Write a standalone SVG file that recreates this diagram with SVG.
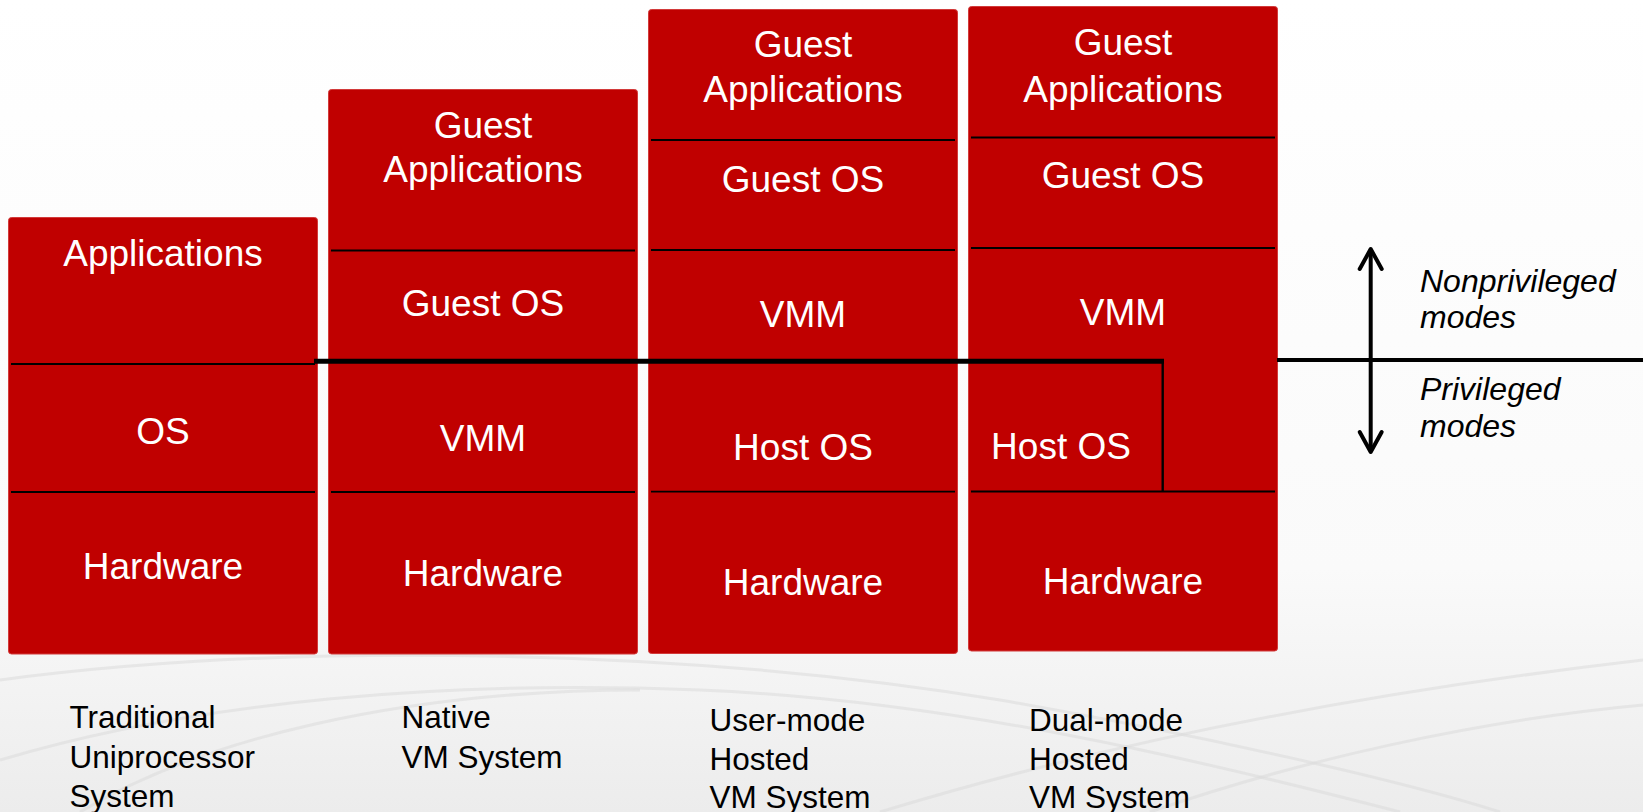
<svg xmlns="http://www.w3.org/2000/svg" width="1643" height="812" viewBox="0 0 1643 812">
<style>
.blk{fill:#C00000;stroke:#D23A3A;stroke-width:1}
.div{stroke:#000;stroke-width:1.8;fill:none}
.lbl{font-family:"Liberation Sans",Arial,sans-serif;font-size:37px;fill:#fff;text-anchor:middle}
.cap{font-family:"Liberation Sans",Arial,sans-serif;font-size:31.5px;fill:#000}
.mode{font-family:"Liberation Sans",Arial,sans-serif;font-size:32px;font-style:italic;fill:#000}
.swoosh{fill:none;stroke:#dadada;stroke-width:3;opacity:0.55}
</style>
<defs>
<linearGradient id="bg" x1="0" y1="0" x2="0" y2="1">
<stop offset="0" stop-color="#ffffff"/>
<stop offset="0.7" stop-color="#fafafa"/>
<stop offset="1" stop-color="#ececec"/>
</linearGradient>
</defs>
<rect x="0" y="0" width="1643" height="812" fill="url(#bg)"/>
<g id="background-swooshes">
<path class="swoosh" d="M0,760 C200,700 450,680 700,690 C950,700 1200,760 1400,812"/>
<path class="swoosh" d="M0,680 C300,640 700,650 1000,700 C1200,735 1400,780 1500,812"/>
<path class="swoosh" d="M880,812 C1050,760 1300,700 1643,660"/>
<path class="swoosh" d="M1150,812 C1300,760 1480,720 1643,705"/>
<path class="swoosh" d="M80,812 C200,740 400,690 640,690"/>
</g>

<g id="col1">
<rect class="blk" x="8.5" y="217.5" width="309" height="436.5" rx="3"/>
<line class="div" x1="11" y1="364" x2="315" y2="364"/>
<line class="div" x1="11" y1="492" x2="315" y2="492"/>
<text class="lbl" x="163" y="266">Applications</text>
<text class="lbl" x="163" y="444">OS</text>
<text class="lbl" x="163" y="579">Hardware</text>
</g>

<g id="col2">
<rect class="blk" x="328.5" y="89.5" width="309" height="564.5" rx="3"/>
<line class="div" x1="331" y1="250.5" x2="635" y2="250.5"/>
<line class="div" x1="331" y1="492" x2="635" y2="492"/>
<text class="lbl" x="483" y="137.5">Guest</text>
<text class="lbl" x="483" y="182">Applications</text>
<text class="lbl" x="483" y="316">Guest OS</text>
<text class="lbl" x="483" y="451">VMM</text>
<text class="lbl" x="483" y="586">Hardware</text>
</g>

<g id="col3">
<rect class="blk" x="648.5" y="9.5" width="309" height="644" rx="3"/>
<line class="div" x1="651" y1="140" x2="955" y2="140"/>
<line class="div" x1="651" y1="250" x2="955" y2="250"/>
<line class="div" x1="651" y1="491.7" x2="955" y2="491.7"/>
<text class="lbl" x="803" y="57.3">Guest</text>
<text class="lbl" x="803" y="101.7">Applications</text>
<text class="lbl" x="803" y="191.7">Guest OS</text>
<text class="lbl" x="803" y="326.7">VMM</text>
<text class="lbl" x="803" y="460">Host OS</text>
<text class="lbl" x="803" y="595">Hardware</text>
</g>

<g id="col4">
<rect class="blk" x="968.5" y="6.5" width="309" height="644.5" rx="3"/>
<line class="div" x1="971" y1="137.5" x2="1275" y2="137.5"/>
<line class="div" x1="971" y1="248" x2="1275" y2="248"/>
<line class="div" x1="971" y1="491.5" x2="1275" y2="491.5"/>
<line class="div" x1="1162.7" y1="361" x2="1162.7" y2="491.5" style="stroke-width:2.4"/>
<text class="lbl" x="1123" y="55">Guest</text>
<text class="lbl" x="1123" y="101.5">Applications</text>
<text class="lbl" x="1123" y="188">Guest OS</text>
<text class="lbl" x="1123" y="325">VMM</text>
<text class="lbl" x="1061" y="459">Host OS</text>
<text class="lbl" x="1123" y="594">Hardware</text>
</g>

<g id="connectors">
<line x1="314" y1="361.3" x2="1164" y2="361.3" stroke="#000" stroke-width="5"/>
<line x1="1277" y1="360" x2="1643" y2="360" stroke="#000" stroke-width="4"/>
<line x1="1370.7" y1="250" x2="1370.7" y2="451" stroke="#000" stroke-width="4"/>
<polyline points="1359.7,269 1370.7,249 1381.7,269" fill="none" stroke="#000" stroke-width="4" stroke-linecap="round" stroke-linejoin="round"/>
<polyline points="1359.7,432 1370.7,452 1381.7,432" fill="none" stroke="#000" stroke-width="4" stroke-linecap="round" stroke-linejoin="round"/>
</g>

<g id="mode-labels">
<text class="mode" x="1420" y="292">Nonprivileged</text>
<text class="mode" x="1420" y="328">modes</text>
<text class="mode" x="1420" y="400">Privileged</text>
<text class="mode" x="1420" y="437">modes</text>
</g>

<g id="captions">
<text class="cap" x="69.5" y="728">Traditional</text>
<text class="cap" x="69.5" y="767.5">Uniprocessor</text>
<text class="cap" x="69.5" y="807">System</text>
<text class="cap" x="401.5" y="728">Native</text>
<text class="cap" x="401.5" y="767.5">VM System</text>
<text class="cap" x="709.5" y="731">User-mode</text>
<text class="cap" x="709.5" y="769.5">Hosted</text>
<text class="cap" x="709.5" y="808">VM System</text>
<text class="cap" x="1029" y="731">Dual-mode</text>
<text class="cap" x="1029" y="769.5">Hosted</text>
<text class="cap" x="1029" y="808">VM System</text>
</g>
</svg>
